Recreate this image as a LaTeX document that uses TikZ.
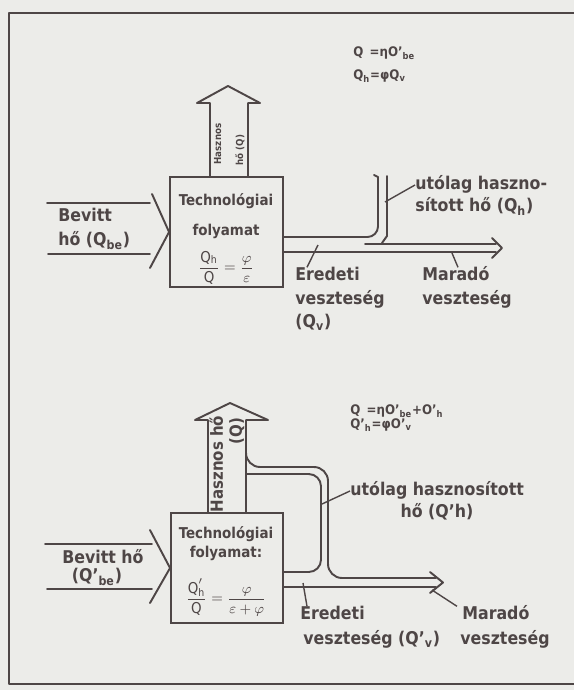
\documentclass[tikz,border=0pt]{standalone}
\usepackage{fontspec}
\setmainfont{DejaVu Sans Condensed}[BoldFont={DejaVu Sans Condensed Bold}]
\usetikzlibrary{positioning}
\definecolor{ink}{RGB}{78,70,70}
\definecolor{paper}{RGB}{236,236,233}

\tikzset{
  lbl/.style={inner sep=0pt, text=ink, font=\fontsize{10}{12}\selectfont\bfseries, text height=7.5pt, text depth=2pt},
  boxlbl/.style={lbl, font=\fontsize{8.5}{10}\selectfont\bfseries},
  formula/.style={lbl, font=\fontsize{7.5}{9}\selectfont\bfseries},
  tinylbl/.style={lbl, font=\fontsize{5.5}{6.5}\selectfont\bfseries, text height=4.5pt, text depth=1pt},
  shaftlbl/.style={lbl, font=\fontsize{9.5}{11}\selectfont\bfseries, rotate=90},
  procbox/.style={draw=ink, line width=1.1pt, inner sep=0pt, minimum width=2.26cm, minimum height=2.2cm},
  flow/.style={draw=ink, line width=1.1pt, line join=round, line cap=round},
  leader/.style={draw=ink, line width=0.8pt},
}

\begin{document}
\begin{tikzpicture}[x=0.02cm, y=-0.02cm]
  \fill[paper] (0,0) rectangle (574,690);
  \useasboundingbox (0,0) rectangle (574,690);
  % frame
  \draw[flow] (574,13) -- (9,13) -- (9,684) -- (574,684);

  % ---- upper diagram
  \node[procbox] (tech1) at (226.5,232) {};
  \node[boxlbl] (tech1a) at (226,201) {Technológiai};
  \node[boxlbl] (tech1b) at (226,231) {folyamat};
  \node[boxlbl] (tech1c) at (226,267) {$\displaystyle\frac{\mathrm{Q_h}}{\mathrm{Q}}=\frac{\varphi}{\varepsilon}$};

  % useful heat, up
  \draw[flow] (210,177) -- (210,103) -- (197,103) -- (228,86) -- (260,103) -- (248,103) -- (248,177);
  \node[tinylbl, rotate=90] (hasznos1a) at (218,144) {Hasznos};
  \node[tinylbl, rotate=90] (hasznos1b) at (240,150) {hő (Q)};

  % heat in
  \draw[flow] (47,203) -- (150,203);
  \draw[flow] (48,254) -- (150,254);
  \draw[flow] (152,194) -- (tech1.west) -- (150,268);
  \node[lbl, anchor=west] (bevitt1a) at (58,217) {Bevitt};
  \node[lbl, anchor=west] (bevitt1b) at (58,241) {hő (Q\textsubscript{be})};

  % losses and recovered heat
  \draw[flow, rounded corners=6] (283,237) -- (378,237) -- (378,177);
  \draw[flow] (374,175) -- (378,177);
  \draw[flow] (387,176) -- (387,236) -- (382,243);
  \draw[flow] (365,244) -- (496,244);
  \draw[flow] (283,252) -- (496,252);
  \draw[flow] (492,238) -- (502,248) -- (492,258);

  \node[lbl, anchor=west] (utolag1a) at (415,185) {utólag haszno-};
  \node[lbl, anchor=west] (utolag1b) at (415,207) {sított hő (Q\textsubscript{h})};
  \draw[leader] (385,202) -- (utolag1a.west);
  \node[lbl, anchor=west] (eredeti1a) at (295,276) {Eredeti};
  \node[lbl, anchor=west] (eredeti1b) at (295,300) {veszteség};
  \node[lbl, anchor=west] (eredeti1c) at (295,323) {(Q\textsubscript{v})};
  \draw[leader] (318,245) -- ([xshift=0.24cm]eredeti1a.north west);
  \node[lbl, anchor=west] (marado1a) at (422,276) {Maradó};
  \node[lbl, anchor=west] (marado1b) at (422,300) {veszteség};
  \draw[leader] (452,253) -- ([xshift=0.72cm]marado1a.north west);

  \node[formula, anchor=west] (keplet1a) at (353,52) {Q\,\ =ηO'\textsubscript{be}};
  \node[formula, anchor=west] (keplet1b) at (353,75) {Q\textsubscript{h}=φQ\textsubscript{v}};

  % ---- lower diagram
  \node[procbox, minimum width=2.24cm] (tech2) at (227,568) {};
  \node[boxlbl] (tech2a) at (226,534) {Technológiai};
  \node[boxlbl] (tech2b) at (226,553) {folyamat:};
  \node[boxlbl] (tech2c) at (226,598) {$\displaystyle\frac{\mathrm{Q'_h}}{\mathrm{Q}}=\frac{\varphi}{\varepsilon+\varphi}$};

  % useful heat, up
  \draw[flow] (208,513) -- (208,420) -- (195,420) -- (230,403) -- (268,420) -- (246,420) -- (246,513);
  \node[shaftlbl] (hasznos2a) at (218,464) {Hasznos hő};
  \node[shaftlbl] (hasznos2b) at (237,431) {(Q)};

  % heat in
  \draw[flow] (45,544) -- (152,544);
  \draw[flow] (47,589) -- (152,589);
  \draw[flow] (150,530) -- (tech2.west) -- (150,603);
  \node[lbl] (bevitt2a) at (103,559) {Bevitt hő};
  \node[lbl] (bevitt2b) at (97,577) {(Q'\textsubscript{be})};

  % recovered heat fed back, remaining loss
  \draw[flow, rounded corners=8] (246,450) -- (246,467) -- (328,467) -- (328,578) -- (436,578);
  \draw[flow, rounded corners=7] (283,572) -- (321,572) -- (321,474) -- (246,474);
  \draw[flow] (283,587) -- (436,587);
  \draw[flow] (430,572) -- (443,582.5) -- (430,593);

  \node[lbl, anchor=west] (utolag2a) at (350,491) {utólag hasznosított};
  \node[lbl] (utolag2b) at (437,513) {hő (Q'h)};
  \draw[leader] (322,504) -- (utolag2a.west);
  \node[lbl, anchor=west] (eredeti2a) at (300,615) {Eredeti};
  \node[lbl, anchor=west] (eredeti2b) at (303,640) {veszteség (Q'\textsubscript{v})};
  \draw[leader] (303,583) -- ([xshift=0.14cm]eredeti2a.north west);
  \node[lbl, anchor=west] (marado2a) at (462,615) {Maradó};
  \node[lbl, anchor=west] (marado2b) at (460,640) {veszteség};
  \draw[leader] (432,590) -- ([xshift=-0.1cm]marado2a.north west);

  \node[formula, anchor=west] (keplet2a) at (350,410) {Q\,\ =ηO'\textsubscript{be}+O'\textsubscript{h}};
  \node[formula, anchor=west] (keplet2b) at (350,424) {Q'\textsubscript{h}=φO'\textsubscript{v}};
\end{tikzpicture}
\end{document}
